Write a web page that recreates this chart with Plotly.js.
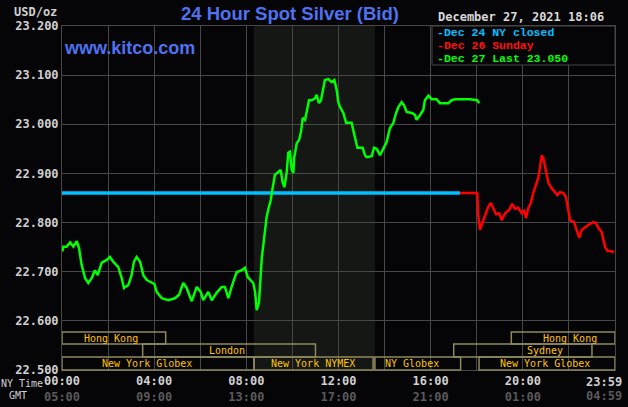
<!DOCTYPE html>
<html>
<head>
<meta charset="utf-8">
<script src="https://cdn.plot.ly/plotly-3.0.1.min.js"></script>
<style>
  html, body { margin: 0; padding: 0; background: #050407; }
  #chart { width: 628px; height: 407px; }
</style>
</head>
<body>
<div id="chart"></div>
<script>
// ---------- DATA ----------
// Hours since midnight (NY time)
const dec27Hours = [0.01,0.06,0.20,0.35,0.49,0.64,0.74,0.85,1.00,1.14,1.29,1.43,1.55,1.72,1.94,2.08,2.23,2.44,2.59,2.69,2.88,3.02,3.12,3.24,3.39,3.53,3.68,3.82,4.01,4.11,4.33,4.61,4.90,5.08,5.26,5.41,5.63,5.85,6.02,6.13,6.35,6.50,6.71,6.93,7.07,7.22,7.36,7.58,7.80,7.94,8.06,8.30,8.38,8.45,8.55,8.67,8.81,8.88,8.95,9.06,9.14,9.24,9.39,9.49,9.58,9.65,9.75,9.82,9.89,9.97,10.04,10.08,10.19,10.29,10.37,10.45,10.55,10.62,10.72,10.84,10.98,11.05,11.15,11.24,11.34,11.41,11.56,11.70,11.82,11.92,11.99,12.07,12.21,12.33,12.43,12.57,12.67,12.75,12.82,12.93,13.05,13.15,13.22,13.44,13.54,13.66,13.80,13.94,14.09,14.23,14.38,14.50,14.60,14.74,14.84,14.96,15.18,15.32,15.39,15.54,15.68,15.75,15.90,16.04,16.26,16.40,16.62,16.77,16.91,17.06,17.27,17.71,18.02,18.11];
const dec27Bid = [22.741,22.751,22.751,22.760,22.751,22.762,22.748,22.714,22.687,22.677,22.687,22.703,22.693,22.718,22.724,22.730,22.720,22.710,22.687,22.667,22.673,22.693,22.720,22.730,22.720,22.693,22.683,22.679,22.675,22.659,22.646,22.642,22.646,22.653,22.677,22.667,22.640,22.669,22.659,22.642,22.659,22.642,22.657,22.669,22.669,22.646,22.669,22.699,22.703,22.708,22.689,22.677,22.659,22.622,22.638,22.728,22.785,22.811,22.826,22.846,22.870,22.897,22.903,22.907,22.881,22.872,22.901,22.942,22.944,22.907,22.901,22.933,22.962,22.968,22.984,23.013,23.009,23.025,23.049,23.049,23.053,23.060,23.043,23.049,23.070,23.090,23.092,23.086,23.090,23.070,23.045,23.035,23.023,23.003,23.003,23.003,22.982,22.964,22.952,22.952,22.952,22.937,22.933,22.935,22.952,22.950,22.937,22.950,22.964,22.992,23.003,23.023,23.035,23.045,23.039,23.025,23.023,23.019,23.009,23.019,23.029,23.049,23.058,23.051,23.051,23.043,23.043,23.043,23.049,23.051,23.051,23.051,23.049,23.043];

const dec26Hours = [17.27,18.02,18.07,18.14,18.21,18.36,18.50,18.61,18.72,18.84,18.98,19.08,19.23,19.41,19.54,19.66,19.80,19.95,20.06,20.14,20.24,20.35,20.45,20.57,20.67,20.74,20.82,20.89,21.00,21.11,21.25,21.40,21.50,21.61,21.76,21.87,21.97,22.05,22.22,22.34,22.45,22.55,22.70,22.84,23.06,23.17,23.28,23.42,23.57,23.67,23.78,23.96];
const dec26Bid = [22.860,22.860,22.812,22.785,22.795,22.815,22.832,22.840,22.830,22.817,22.819,22.805,22.819,22.826,22.838,22.828,22.830,22.819,22.824,22.809,22.830,22.840,22.860,22.876,22.891,22.911,22.937,22.931,22.903,22.881,22.870,22.862,22.856,22.862,22.860,22.852,22.821,22.805,22.801,22.785,22.769,22.785,22.791,22.795,22.801,22.799,22.789,22.781,22.750,22.742,22.742,22.740];

const dec24Hours = [0, 17.27];
const dec24Bid = [22.860, 22.860];

const seriesNames = ["Dec 24 NY closed", "Dec 26 Sunday", "Dec 27 Last 23.050"];

// Tick labels
const xTickHours = [0,2,4,6,8,10,12,14,16,18,20,22,24];
const xTickNY   = ["00:00","","04:00","","08:00","","12:00","","16:00","","20:00","",""];
const xTickGMT  = ["05:00","","09:00","","13:00","","17:00","","21:00","","01:00","",""];
const lastTickNY = "23:59", lastTickGMT = "04:59";
const yTickVals = [22.5,22.6,22.7,22.8,22.9,23.0,23.1,23.2];
const yTickLabels = ["22.500","22.600","22.700","22.800","22.900","23.000","23.100","23.200"];

// Trading sessions (hours, NY time); row 1 = top
const sessionNames = ["Hong Kong","London","New York Globex","New York NYMEX","NY Globex","New York Globex","Sydney","Hong Kong"];
const sessionRow   = [1,2,3,3,3,3,2,1];
const sessionStart = [0,3.5,0,8.33,13.58,18.1,17.0,19.5];
const sessionEnd   = [4.5,11.0,8.33,13.5,17.3,24,23.0,24];
const nymexShade = [8.33, 13.58];

// ---------- STYLE / LAYOUT ----------
const mono = "DejaVu Sans Mono";
const gridCol = "#474747";
const sessLine = "#8f8a5e";
const sessText = "#ffc400";
const plotTop = 26, plotBottom = 370, plotH = plotBottom - plotTop;
const py = p => (plotBottom - p) / plotH;   // pixel y -> paper y
const rowBands = {1:[py(344), py(332)], 2:[py(357), py(344)], 3:[0, py(357)]};
const labelHour = [2.13, 7.16, 3.67, 10.89, 15.21, 20.98, 20.98, 22.05];

const traces = [
  {x: dec24Hours, y: dec24Bid, name: seriesNames[0], mode: "lines", line: {color: "#00c0ff", width: 3.5}},
  {x: dec26Hours, y: dec26Bid, name: seriesNames[1], mode: "lines", line: {color: "#ff0000", width: 2.5}},
  {x: dec27Hours, y: dec27Bid, name: seriesNames[2], mode: "lines", line: {color: "#00ff00", width: 2.5}}
];

const shapes = [
  {type: "rect", xref: "x", yref: "paper", x0: nymexShade[0], x1: nymexShade[1], y0: 0, y1: 1,
   fillcolor: "#141714", line: {width: 0}, layer: "below"},
  {type: "rect", xref: "paper", yref: "paper", x0: (432-62)/553, x1: 1, y0: py(65), y1: 1,
   fillcolor: "#050407", line: {color: gridCol, width: 1}, layer: "above"}
];
sessionNames.forEach((n, i) => {
  const b = rowBands[sessionRow[i]];
  shapes.push({type: "rect", xref: "x", yref: "paper", x0: sessionStart[i], x1: sessionEnd[i],
    y0: b[0], y1: b[1], line: {color: sessLine, width: 1.5}, fillcolor: "rgba(0,0,0,0)", layer: "above"});
});

const annotations = [];
sessionNames.forEach((n, i) => {
  const b = rowBands[sessionRow[i]];
  annotations.push({text: n, xref: "x", yref: "paper", x: labelHour[i], y: (b[0]+b[1])/2,
    showarrow: false, borderpad: 0, font: {family: mono, size: 10, color: sessText}, xanchor: "center", yanchor: "middle"});
});
const legendCols = ["#00c0ff", "#ff1010", "#00ff00"];
const legendY = [32, 45, 58];
seriesNames.forEach((n, i) => {
  annotations.push({text: "-" + n, xref: "paper", yref: "paper", x: (436-62)/553, y: py(legendY[i]),
    showarrow: false, borderpad: 0, xanchor: "left", yanchor: "middle",
    font: {family: "Liberation Mono", size: 11.5, color: legendCols[i], weight: "bold"}});
});
annotations.push(
  {text: "December 27, 2021 18:06", xref: "paper", yref: "paper", x: (605-62)/553, y: py(17),
   showarrow: false, borderpad: 0, xanchor: "right", yanchor: "middle", font: {family: mono, size: 12, color: "#d8d8d8", weight: "bold"}},
  {text: "www.kitco.com", xref: "paper", yref: "paper", x: (63-62)/553, y: py(48),
   showarrow: false, borderpad: 0, xanchor: "left", yanchor: "middle", font: {family: "Liberation Sans", size: 18, color: "#4f72f0", weight: "bold"}},
  {text: "USD/oz", xref: "paper", yref: "paper", x: (58-62)/553, y: py(12),
   showarrow: false, borderpad: 0, xanchor: "right", yanchor: "middle", font: {family: mono, size: 12, color: "#d0d0d0", weight: "bold"}},
  {text: "NY Time", xref: "paper", yref: "paper", x: (0-62)/553, y: py(383),
   showarrow: false, borderpad: 0, xanchor: "left", yanchor: "middle", font: {family: mono, size: 10, color: "#cfcfcf"}},
  {text: "GMT", xref: "paper", yref: "paper", x: (8-62)/553, y: py(396),
   showarrow: false, borderpad: 0, xanchor: "left", yanchor: "middle", font: {family: mono, size: 10, color: "#cfcfcf"}},
  {text: lastTickNY, xref: "paper", yref: "paper", x: (604-62)/553, y: py(382),
   showarrow: false, borderpad: 0, xanchor: "center", yanchor: "middle", font: {family: mono, size: 12, color: "#d0d0d0", weight: "bold"}},
  {text: lastTickGMT, xref: "paper", yref: "paper", x: (604-62)/553, y: py(396),
   showarrow: false, borderpad: 0, xanchor: "center", yanchor: "middle", font: {family: mono, size: 12, color: "#5a5a5a", weight: "bold"}}
);

const layout = {
  width: 628, height: 407,
  margin: {l: 62, r: 13, t: plotTop, b: 407 - plotBottom, pad: 0},
  paper_bgcolor: "#050407", plot_bgcolor: "#050407",
  showlegend: false,
  title: {text: "24 Hour Spot Silver (Bid)", x: 290/628, xanchor: "center", y: 1 - 14/407, yanchor: "middle",
          font: {family: "Liberation Sans", size: 18.5, color: "#4f72f0", weight: "bold"}},
  xaxis: {range: [0, 24], tickmode: "array", tickvals: xTickHours,
          ticktext: xTickNY.map((t, i) => t ? t + "<br><span style='color:#5a5a5a'>" + xTickGMT[i] + "</span>" : ""),
          showgrid: true, gridcolor: gridCol, gridwidth: 1, zeroline: false,
          showline: true, linecolor: gridCol, linewidth: 1, mirror: true, ticks: "",
          tickfont: {family: mono, size: 12, color: "#d0d0d0", weight: "bold"}, fixedrange: true},
  yaxis: {range: [22.5, 23.2], tickmode: "array", tickvals: yTickVals, ticktext: yTickLabels,
          showgrid: true, gridcolor: gridCol, gridwidth: 1, zeroline: false,
          showline: true, linecolor: gridCol, linewidth: 1, mirror: true, ticks: "",
          tickfont: {family: mono, size: 12, color: "#d0d0d0", weight: "bold"}, fixedrange: true},
  shapes: shapes,
  annotations: annotations
};

Plotly.newPlot("chart", traces, layout, {displayModeBar: false, staticPlot: true});
</script>
</body>
</html>
